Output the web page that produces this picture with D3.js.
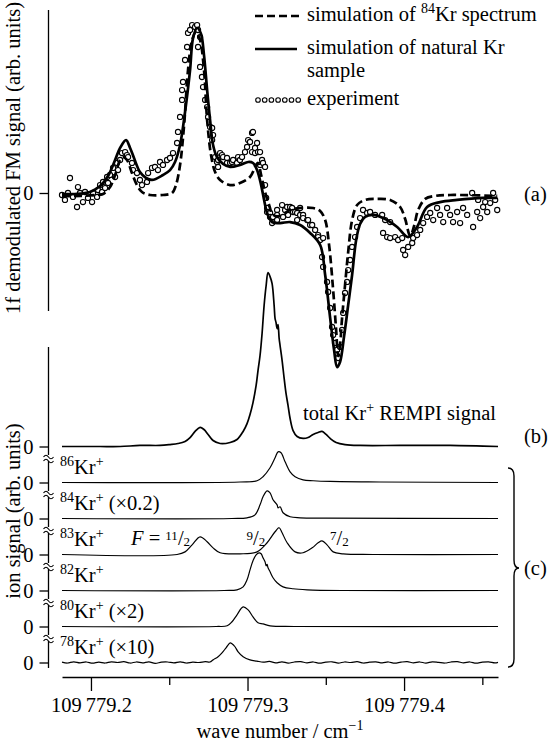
<!DOCTYPE html>
<html>
<head>
<meta charset="utf-8">
<script src="https://cdn.jsdelivr.net/npm/d3@7"></script>
<style>
    body { margin: 0; background: #fff; }
    svg { display: block; }
    text { font-family: 'Liberation Serif', serif; font-size: 20.5px; fill: #000; }
</style>
</head>
<body>
<svg id="chart" width="550" height="745"></svg>
<script>
// Wave numbers are stored as offsets above WN_BASE, in units of 1e-3 cm^-1
const WN_BASE = 109779;

// (a) 1f demodulated FM signal, arb. units (main peak ~ 100)
const fmSimKr84 = [
    [181.5,-1.8],[193.0,-1.8],[202.6,-1.2],[207.7,-0.6],[212.2,3.6],[215.4,10.9],[218.6,20.0],[220.5,21.8],
    [223.0,20.0],[226.2,12.1],[229.4,4.8],[232.6,0.6],[237.7,-1.2],[246.0,-1.2],[251.8,0],[254.3,4.8],
    [256.9,17.0],[259.5,41.2],[262.0,74.5],[264.6,92.7],[267.1,97.6],[269.7,92.7],[272.2,74.5],[274.2,44.2],
    [276.7,23.0],[279.3,12.7],[282.5,7.9],[288.9,4.8],[295.2,6.1],[301.6,9.7],[305.5,17.0],[306.7,18.2],
    [308.7,10.9],[311.2,0.6],[313.8,-7.3],[316.3,-13.3],[320.8,-13.9],[327.2,-10.3],[333.6,-9.1],[341.9,-9.1],
    [346.4,-10.9],[349.6,-16.4],[352.1,-31.5],[354.7,-58.8],[356.6,-83.0],[357.9,-98.8],[359.1,-92.1],[360.4,-75.8],
    [362.3,-55.8],[364.3,-35.8],[366.8,-16.4],[370.0,-7.3],[375.1,-4.2],[381.5,-3.6],[391.1,-4.2],[397.5,-8.5],
    [400.7,-15.8],[403.9,-26.1],[406.4,-20.0],[409.0,-10.3],[413.5,-3.6],[419.8,-1.8],[429.4,-1.2],[459.5,-1.8]
];

const fmSimNatural = [
    [181.5,-0.6],[189.8,-0.6],[199.4,0.6],[205.8,4.2],[210.9,10.3],[215.4,20.0],[218.6,27.3],[222.4,32.1],
    [225.0,27.3],[227.5,21.2],[231.3,12.7],[235.2,9.1],[239.0,7.9],[246.0,10.9],[250.5,13.9],[253.7,18.8],
    [256.9,29.1],[260.1,49.1],[263.3,74.5],[265.2,93.9],[267.8,100],[270.3,96.4],[272.2,83.6],[274.2,62.4],
    [276.1,44.2],[278.0,29.1],[280.5,21.8],[284.4,17.6],[288.9,15.8],[295.2,17.0],[300.4,18.8],[303.5,18.2],
    [306.1,13.9],[308.7,4.8],[310.6,-4.2],[312.5,-12.1],[315.7,-17.6],[320.8,-18.2],[327.2,-17.6],[333.6,-19.4],
    [340.0,-24.2],[346.4,-31.5],[349.6,-49.7],[352.8,-75.8],[355.3,-95.2],[357.2,-105.5],[359.1,-102.4],[361.7,-86.7],
    [364.3,-67.9],[366.8,-49.7],[369.4,-28.5],[371.9,-18.8],[375.1,-14.5],[380.2,-13.3],[386.6,-15.2],[395.6,-20.6],
    [402.6,-26.7],[408.3,-20.6],[414.7,-8.5],[423.0,-5.5],[433.9,-4.2],[450.5,-3.0],[459.5,-3.0]
];

const fmExperiment = [
    [181.5,-1.2],[183.4,-4.2],[185.3,0],[186.6,9.1],[188.5,-2.4],[191.1,-8.5],[191.7,3.6],[193.0,0],
    [194.9,-5.5],[196.2,0.6],[198.1,-3.0],[200.7,-5.5],[201.3,0],[203.9,-2.4],[204.5,1.8],[205.8,4.8],
    [207.1,0.6],[207.7,6.7],[209.0,3.0],[210.3,9.7],[210.9,6.1],[212.2,10.9],[214.1,15.2],[215.4,9.7],
    [216.6,18.2],[217.3,13.9],[218.6,20.0],[219.8,24.2],[221.8,24.8],[223.0,23.0],[223.7,21.8],[226.2,18.2],
    [226.9,13.9],[229.4,12.1],[231.3,7.9],[232.6,4.8],[235.8,6.7],[236.5,12.1],[239.0,15.2],[240.9,15.8],
    [242.8,13.9],[244.1,18.8],[246.0,17.0],[248.6,20.0],[250.5,21.2],[252.4,24.2],[255.0,30.3],[255.6,37.0],
    [256.9,46.1],[258.2,56.4],[258.2,62.4],[258.8,67.3],[260.1,80.6],[261.4,88.5],[262.0,97.0],[263.3,98.8],
    [264.6,101.8],[266.5,100.6],[267.8,101.8],[268.4,98.8],[269.7,94.5],[268.4,88.5],[269.7,76.4],[270.9,70.3],
    [271.6,64.2],[272.9,56.4],[274.2,52.1],[274.8,46.1],[276.1,40.0],[277.4,39.4],[278.0,35.1],[277.4,32.1],
    [279.3,21.8],[280.5,18.8],[281.2,20.0],[281.2,15.8],[282.5,24.2],[283.7,23.0],[284.4,21.8],[286.9,21.2],
    [286.9,18.2],[288.9,18.2],[290.1,18.8],[290.8,20.0],[293.3,18.2],[294.0,21.8],[295.2,20.0],[296.5,21.8],
    [298.4,24.8],[299.7,27.9],[300.4,32.1],[301.6,30.9],[302.9,36.4],[303.5,37.0],[302.9,24.8],[304.8,27.3],
    [304.8,24.2],[306.1,30.3],[306.7,24.8],[308.0,24.8],[308.0,17.0],[309.3,20.0],[309.9,18.2],[311.2,15.8],
    [311.2,4.8],[311.9,-3.0],[312.5,-9.1],[312.5,-11.5],[314.4,-12.1],[314.4,-14.5],[315.7,-18.2],[316.3,-14.5],
    [318.9,-10.3],[318.9,-13.3],[318.9,-16.4],[322.1,-7.3],[322.7,-14.5],[324.0,-10.3],[325.3,-8.5],[325.9,-13.3],
    [327.2,-8.5],[328.5,-9.1],[329.1,-11.5],[330.4,-11.5],[331.7,-12.1],[331.7,-16.4],[333.6,-9.1],[333.6,-13.3],
    [335.5,-13.3],[335.5,-15.2],[338.1,-16.4],[338.7,-16.4],[340.0,-19.4],[341.3,-19.4],[343.2,-22.4],[345.1,-25.5],
    [345.1,-26.7],[346.4,-28.5],[347.6,-38.8],[348.3,-27.3],[348.3,-44.8],[350.8,-53.9],[351.5,-60.0],[352.8,-69.7],
    [354.0,-81.2],[354.7,-86.1],[355.9,-90.9],[357.2,-95.1],[357.9,-100.0],[359.1,-93.3],[360.4,-83.0],[361.1,-72.7],
    [362.3,-60.6],[363.6,-53.9],[364.3,-46.7],[365.5,-40.6],[366.8,-32.7],[368.7,-26.7],[370.0,-20.6],[371.9,-15.2],
    [373.8,-10.3],[376.4,-12.1],[378.3,-11.5],[381.5,-13.3],[386.0,-13.3],[386.6,-24.2],[387.9,-16.4],[389.2,-26.7],
    [391.1,-17.6],[391.1,-27.3],[394.3,-26.7],[396.2,-28.5],[398.8,-27.3],[399.4,-34.5],[400.7,-37.6],[402.6,-32.7],
    [405.2,-30.3],[405.8,-27.3],[408.3,-25.5],[410.3,-22.4],[412.2,-18.2],[414.7,-14.5],[416.7,-12.1],[418.6,-16.4],
    [421.1,-9.1],[423.0,-13.3],[425.0,-17.6],[427.5,-9.1],[429.4,-13.3],[431.3,-17.6],[433.9,-11.5],[435.8,-18.2],
    [437.7,-9.1],[440.3,-13.3],[443.5,0],[444.1,-20.6],[446.7,-11.5],[447.3,-4.2],[448.6,-15.2],[450.5,-8.5],
    [451.8,-5.5],[453.1,-11.5],[455.0,-6.1],[456.9,0],[458.2,-4.2],[459.5,-10.3]
];

// (b) total Kr+ REMPI signal, arb. units (peak ~ 100)
const rempiTotal = [
    [181.5,0],[193.0,0],[205.8,0],[218.6,0],[231.3,0.6],[244.1,0.6],[250.5,1.1],[255.6,1.7],[260.1,2.9],
    [263.3,5.1],[266.5,8.6],[269.7,10.9],[272.2,9.7],[274.8,6.9],[278.0,3.4],[282.5,1.7],[288.9,2.3],
    [293.3,4.0],[297.2,8.6],[299.7,13.1],[301.6,18.3],[303.5,25.1],[305.5,34.9],[306.7,43.4],[308.0,52.0],
    [309.3,64.6],[310.6,80.6],[311.9,92.0],[313.1,99.4],[314.4,97.1],[315.7,93.1],[317.0,80.6],[317.6,73.1],
    [318.2,70.9],[318.9,67.4],[319.5,69.7],[320.2,61.7],[320.8,57.7],[322.1,49.1],[323.4,38.9],[324.6,30.3],
    [325.9,23.4],[327.2,16.0],[329.1,9.1],[331.7,5.7],[335.5,4.6],[338.7,5.1],[341.9,6.9],[345.1,8.0],
    [347.6,8.6],[350.2,6.9],[352.8,4.6],[356.6,2.3],[362.3,1.1],[371.9,0.6],[397.5,0.6],[429.4,0.6],[460,0]
];

// (c) isotope-selected ion signals, same arb. units as (b), already multiplied by the shown factor
const ion86 = [
    [181.5,0],[295.2,0.3],[306.1,1.0],[309.9,3.3],[314.4,8.4],[317.6,14.1],[319.5,17.5],[321.4,17.0],
    [324.0,11.8],[327.2,6.1],[330.4,3.3],[335.5,1.5],[341.9,1.0],[352.8,0.6],[384.7,0.3],[460,0]
];
const ion84 = [
    [181.5,0],[290,0],[299.7,0.4],[304.8,2.1],[308.0,7.8],[309.9,12.4],[312.5,15.8],[314.4,14.7],
    [316.3,10.7],[318.9,7.8],[319.5,6.1],[320.8,6.7],[322.7,3.3],[327.2,1.0],[333.6,0.4],[350,0.2],[460,0]
];
const ion83 = [
    [181.5,0],[255,0],[260.1,1.5],[264.6,5.5],[269.7,10.1],[274.2,7.3],[278.0,3.8],[282.5,1.0],[295.2,0.4],
    [306.1,1.5],[312.5,6.7],[317.6,13.0],[320.2,15.3],[322.1,12.4],[325.3,6.7],[330.4,1.5],[335.5,1.0],
    [341.3,3.8],[345.1,6.7],[347.6,7.8],[350.8,5.5],[354.7,1.5],[361.1,0.4],[380,0],[460,0]
];
const ion82 = [
    [181.5,0],[285,0],[293.3,0.4],[297.2,2.1],[299.7,6.1],[301.6,11.8],[303.5,17.0],[305.5,20.4],[307.4,21.5],
    [308.7,21.0],[309.9,18.7],[311.2,16.4],[311.9,14.1],[312.5,15.0],[313.1,13.0],[314.4,10.7],[316.3,7.3],
    [318.9,4.4],[322.7,2.1],[329.1,1.0],[338.1,0.4],[360,0],[460,0]
];
const ion80 = [
    [181.5,0],[280,0],[287.0,0.4],[290.1,2.7],[293.3,6.7],[297.2,11.2],[300.4,9.5],[303.5,5.5],
    [306.7,2.1],[309.9,1.5],[314.4,0.4],[330,0],[460,0]
];
const ion78 = [
    [181.5,0.2],[185,-0.3],[189,0.4],[193,-0.2],[197,0.3],[201,-0.4],[205,0.2],[209,-0.3],[213,0.4],[217,0.0],
    [221,0.5],[225,-0.3],[229,0.3],[233,-0.2],[237,0.4],[241,-0.5],[245,0.2],[249,0.3],[253,-0.2],[257,0.4],
    [261,-0.3],[265,0.2],[269,0.0],[273,0.5],[276,0.3],[278.0,1.5],[281.2,3.3],[283.7,5.5],[286.3,8.4],
    [288.9,11.2],[290.1,10.7],[292.0,9.0],[294.0,6.1],[297.2,3.3],[301.6,1.5],[306,0.8],[310,0.2],[314,0.6],
    [318,-0.2],[322,0.4],[326,-0.3],[330,0.3],[334,0.5],[338,-0.2],[342,0.3],[346,-0.4],[350,0.2],[354,0.4],
    [358,-0.3],[362,0.3],[366,0.0],[370,0.5],[374,-0.3],[378,0.2],[382,0.4],[386,-0.2],[390,0.3],[394,-0.4],
    [398,0.2],[402,0.5],[406,-0.2],[410,0.3],[414,-0.3],[418,0.4],[422,0.1],[426,-0.3],[430,0.3],[434,0.5],
    [438,-0.2],[442,0.3],[446,-0.4],[450,0.2],[454,0.4],[458,-0.2],[460,0.1]
];

const ionMasses = ['86', '84', '83', '82', '80', '78'];
const ionFactors = ['', '(×0.2)', '', '', '(×2)', '(×10)'];
const ionTraces = [ion86, ion84, ion83, ion82, ion80, ion78];

// F = 11/2, 9/2, 7/2 hyperfine components of 83Kr
const hfsNumerators = ['11', '9', '7'];
const hfsPositions = [269.7, 320.2, 347.6];

const xMajorTicks = [200, 300, 400];
const xMinorTicks = [250, 350, 450];
const xDomain = [181.5, 460];

(function() {
    'use strict';

    const CONFIG = {
        xRange: [62, 498],
        axisX: 48.5,
        xAxisY: 677,
        top: { axisTop: 10, axisBottom: 311, zeroY: 193, fullY: 28 },
        lower: { axisTop: 347, axisBottom: 668, firstBase: 446.5, step: 36, fullHeight: 175 },
        tickLen: 9,
        tickFont: 19,
        supSize: 14,
        supShift: 8,
        fracSize: 13
    };

    const svg = d3.select('#chart');
    const x = d3.scaleLinear().domain(xDomain).range(CONFIG.xRange);
    const yTop = d3.scaleLinear().domain([0, 100]).range([CONFIG.top.zeroY, CONFIG.top.fullY]);

    const smooth = d3.line().x(d => x(d[0])).curve(d3.curveCatmullRom.alpha(0.5));

    // append "base<sup>sup</sup>after" as tspans; the baseline comes back on the "after" run
    function withSup(textSel, before, supText, after) {
        if (before) textSel.append('tspan').text(before);
        textSel.append('tspan')
            .attr('font-size', CONFIG.supSize)
            .attr('dy', -CONFIG.supShift)
            .text(supText);
        if (after) textSel.append('tspan').attr('dy', CONFIG.supShift).text(after);
    }

    // ---------- panel (a) ----------
    function drawTopPanel() {
        const g = svg.append('g');

        g.append('line')
            .attr('x1', CONFIG.axisX).attr('x2', CONFIG.axisX)
            .attr('y1', CONFIG.top.axisTop).attr('y2', CONFIG.top.axisBottom)
            .attr('stroke', '#000').attr('stroke-width', 1.3);

        const yAxis = d3.axisLeft(yTop).tickValues([0]).tickSize(CONFIG.tickLen).tickPadding(6);
        const ax = g.append('g')
            .attr('transform', `translate(${CONFIG.axisX},0)`)
            .call(yAxis);
        ax.select('.domain').remove();
        ax.selectAll('line').attr('stroke-width', 1.3);
        ax.selectAll('text').attr('font-size', CONFIG.tickFont).attr('font-family', null);

        const line = smooth.y(d => yTop(d[1]));

        g.append('g').selectAll('circle')
            .data(fmExperiment)
            .join('circle')
            .attr('cx', d => x(d[0]))
            .attr('cy', d => yTop(d[1]))
            .attr('r', 2.6)
            .attr('fill', '#fff')
            .attr('stroke', '#000')
            .attr('stroke-width', 1.1);

        g.append('path').datum(fmSimKr84)
            .attr('d', line)
            .attr('fill', 'none').attr('stroke', '#000')
            .attr('stroke-width', 2.7).attr('stroke-dasharray', '8,4');

        g.append('path').datum(fmSimNatural)
            .attr('d', line)
            .attr('fill', 'none').attr('stroke', '#000')
            .attr('stroke-width', 2.7);

        g.append('text').attr('x', 524).attr('y', 201).text('(a)');
    }

    // ---------- legend ----------
    function drawLegend() {
        const g = svg.append('g');
        const x0 = 255, x1 = 301, tx = 307;

        g.append('line').attr('x1', x0).attr('x2', x1).attr('y1', 16).attr('y2', 16)
            .attr('stroke', '#000').attr('stroke-width', 2.7).attr('stroke-dasharray', '8,4');
        withSup(g.append('text').attr('x', tx).attr('y', 21), 'simulation of ', '84', 'Kr spectrum');

        g.append('line').attr('x1', x0).attr('x2', x1 - 4).attr('y1', 49).attr('y2', 49)
            .attr('stroke', '#000').attr('stroke-width', 2.7);
        g.append('text').attr('x', tx).attr('y', 54).text('simulation of natural Kr');
        g.append('text').attr('x', tx).attr('y', 77).text('sample');

        g.append('g').selectAll('circle')
            .data(d3.range(7))
            .join('circle')
            .attr('cx', i => x0 + 3 + i * 6.7)
            .attr('cy', 100)
            .attr('r', 2.3)
            .attr('fill', '#fff').attr('stroke', '#000').attr('stroke-width', 1.1);
        g.append('text').attr('x', tx).attr('y', 105).text('experiment');
    }

    // ---------- panels (b) and (c) ----------
    function drawLowerPanels() {
        const g = svg.append('g');
        const L = CONFIG.lower;
        const bases = d3.range(7).map(i => L.firstBase + i * L.step);
        const yFor = base => d3.scaleLinear().domain([0, 100]).range([base, base - L.fullHeight]);

        g.append('line')
            .attr('x1', CONFIG.axisX).attr('x2', CONFIG.axisX)
            .attr('y1', L.axisTop).attr('y2', L.axisBottom)
            .attr('stroke', '#000').attr('stroke-width', 1.3);

        const traces = [rempiTotal].concat(ionTraces);
        traces.forEach((trace, i) => {
            const y = yFor(bases[i]);
            const ax = g.append('g')
                .attr('transform', `translate(${CONFIG.axisX},0)`)
                .call(d3.axisLeft(y).tickValues([0]).tickSize(CONFIG.tickLen).tickPadding(6));
            ax.select('.domain').remove();
            ax.selectAll('line').attr('stroke-width', 1.3);
            ax.selectAll('text').attr('font-size', CONFIG.tickFont).attr('font-family', null);

            g.append('path').datum(trace)
                .attr('d', smooth.y(d => y(d[1])))
                .attr('fill', 'none').attr('stroke', '#000')
                .attr('stroke-width', i === 0 ? 1.7 : 1.2)
                .attr('stroke-linejoin', 'round');
        });

        // axis breaks between the stacked traces
        bases.slice(0, 6).forEach(b => {
            const yb = b + 11.5;
            g.append('rect')
                .attr('x', CONFIG.axisX - 2).attr('y', yb - 3)
                .attr('width', 4).attr('height', 6).attr('fill', '#fff');
            [-2, 2].forEach(off => {
                g.append('path')
                    .attr('d', `M${CONFIG.axisX - 5},${yb + off + 1} q2.5,-3.5 5,0 t5,0`)
                    .attr('fill', 'none').attr('stroke', '#000').attr('stroke-width', 1.1);
            });
        });

        // labels
        withSup(g.append('text').attr('x', 303).attr('y', 420), 'total Kr', '+', ' REMPI signal');
        g.append('text').attr('x', 524).attr('y', 443).text('(b)');

        ionMasses.forEach((m, i) => {
            const t = g.append('text')
                .attr('x', 60).attr('y', bases[i + 1] - 9)
                .attr('xml:space', 'preserve');
            withSup(t, '', m, 'Kr');
            withSup(t, '', '+', ionFactors[i] ? ' ' + ionFactors[i] : '');
        });

        // hyperfine F labels on the 83Kr trace
        const yHfs = bases[3] - 10;
        hfsNumerators.forEach((num, i) => {
            const t = g.append('text').attr('y', yHfs);
            if (i === 0) {
                t.attr('x', x(hfsPositions[i]) - 10).attr('text-anchor', 'end');
                t.append('tspan').attr('font-style', 'italic').text('F');
                t.append('tspan').text(' = ');
            } else if (i === 1) {
                t.attr('x', x(hfsPositions[i]) - 14).attr('text-anchor', 'end');
            } else {
                t.attr('x', x(hfsPositions[i]) + 8);
            }
            t.append('tspan').attr('font-size', CONFIG.fracSize).attr('dy', -5).text(num);
            t.append('tspan').attr('dy', 5).text('/');
            t.append('tspan').attr('font-size', CONFIG.fracSize).attr('dy', 1).text('2');
        });

        // brace grouping (c)
        const bx = 508, top = 468, bot = 667, mid = 568;
        g.append('path')
            .attr('d', `M${bx},${top} Q${bx + 6},${top} ${bx + 6},${top + 8} L${bx + 6},${mid - 8} Q${bx + 6},${mid} ${bx + 11},${mid}` +
                ` Q${bx + 6},${mid} ${bx + 6},${mid + 8} L${bx + 6},${bot - 8} Q${bx + 6},${bot} ${bx},${bot}`)
            .attr('fill', 'none').attr('stroke', '#000').attr('stroke-width', 1.4);
        g.append('text').attr('x', 524).attr('y', 575).text('(c)');
    }

    // ---------- shared x axis ----------
    function drawXAxis() {
        const fmt = d => {
            const s = d3.format('.1f')(WN_BASE + d / 1000);
            return s.slice(0, 3) + '\u2009' + s.slice(3);
        };
        const major = svg.append('g')
            .attr('transform', `translate(0,${CONFIG.xAxisY})`)
            .call(d3.axisBottom(x).tickValues(xMajorTicks).tickSize(14).tickSizeOuter(0).tickPadding(6).tickFormat(fmt));
        major.select('.domain').attr('stroke-width', 1.3);
        major.selectAll('line').attr('stroke-width', 1.3);
        major.selectAll('text').attr('font-size', CONFIG.tickFont).attr('font-family', null);

        const minor = svg.append('g')
            .attr('transform', `translate(0,${CONFIG.xAxisY})`)
            .call(d3.axisBottom(x).tickValues(xMinorTicks).tickSize(8).tickSizeOuter(0).tickFormat(''));
        minor.select('.domain').remove();
        minor.selectAll('line').attr('stroke-width', 1.3);

        const t = svg.append('text')
            .attr('x', (CONFIG.xRange[0] + CONFIG.xRange[1]) / 2)
            .attr('y', 738)
            .attr('text-anchor', 'middle');
        withSup(t, 'wave number / cm', '\u22121', '');
    }

    function drawYLabels() {
        svg.append('text')
            .attr('transform', 'translate(20,158) rotate(-90)')
            .attr('text-anchor', 'middle')
            .text('1f demodulated FM signal (arb. units)');
        svg.append('text')
            .attr('transform', 'translate(20,511) rotate(-90)')
            .attr('text-anchor', 'middle')
            .text('ion signal (arb. units)');
    }

    drawLowerPanels();
    drawTopPanel();
    drawLegend();
    drawXAxis();
    drawYLabels();
})();
</script>
</body>
</html>
